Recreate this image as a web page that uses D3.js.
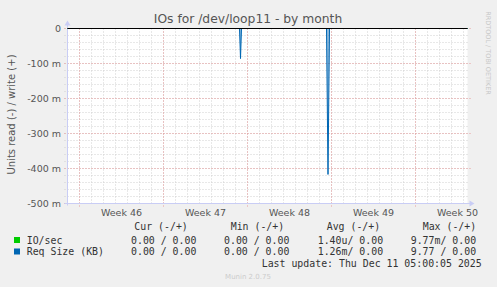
<!DOCTYPE html>
<head>
  <title>IOs for /dev/loop11 - by month</title>
  <script src="https://d3js.org/d3.v7.min.js"></script>
</head>
<meta charset="utf-8">
<style>
body {
  margin: 0;
  background: #f0f0f0;
}
svg text {
  font-family: "DejaVu Sans", sans-serif;
}
.mono {
  font-family: "DejaVu Sans Mono", monospace !important;
  font-size: 9.9px;
  fill: #333;
}
</style>
<body>
<svg id="chart" width="497" height="287"></svg>
<script>

// time window shown (33 days, munin "month")
var startTime = "2025-11-09T00:00:00Z",
    endTime = "2025-12-12T08:00:00Z";

var weekStarts = ["2025-11-10T00:00:00Z", "2025-11-17T00:00:00Z", "2025-11-24T00:00:00Z", "2025-12-01T00:00:00Z", "2025-12-08T00:00:00Z"];
var weekLabels = ["Week 46", "Week 47", "Week 48", "Week 49", "Week 50"];

var yTickValues = [0, -0.1, -0.2, -0.3, -0.4, -0.5];
var yTickLabels = ["0", "-100 m", "-200 m", "-300 m", "-400 m", "-500 m"];

// IO/sec read side (drawn negative) - flat at zero at this scale
var ioTimes = ["2025-11-09T00:00:00Z", "2025-12-12T08:00:00Z"];
var ioRead = [0, 0];

// Req Size (KB) read side (drawn negative)
var reqTimes = ["2025-11-09T00:00:00Z", "2025-11-23T08:00:00Z", "2025-11-23T10:00:00Z", "2025-11-23T12:00:00Z",
                "2025-11-30T14:00:00Z", "2025-11-30T17:00:00Z", "2025-11-30T20:00:00Z", "2025-12-12T08:00:00Z"];
var reqRead = [0, 0, 0.086, 0, 0, 0.417, 0, 0];

// legend
var seriesNames = ["IO/sec", "Req Size (KB)"];
var seriesColors = ["#00cc00", "#0066b3"];
var curVals = ["0.00 / 0.00", "0.00 / 0.00"];
var minVals = ["0.00 / 0.00", "0.00 / 0.00"];
var avgVals = ["1.40u/ 0.00", "1.26m/ 0.00"];
var maxVals = ["9.77m/ 0.00", "9.77 / 0.00"];
var colHeaders = ["Cur (-/+)", "Min (-/+)", "Avg (-/+)", "Max (-/+)"];

var svg = d3.select("#chart");

var x = d3.scaleUtc()
    .domain([new Date(startTime), new Date(endTime)])
    .range([67.5, 467.5]);

var y = d3.scaleLinear()
    .domain([-0.5, 0])
    .range([203.5, 28.5]);

var pLeft = x.range()[0], pRight = x.range()[1],
    pTop = y.range()[1], pBottom = y.range()[0];

// plot background
svg.append("rect")
    .attr("x", pLeft).attr("y", pTop)
    .attr("width", pRight - pLeft).attr("height", pBottom - pTop)
    .attr("fill", "#fff");

// minor grid
var days = d3.utcDay.range(x.domain()[0], x.domain()[1]);
svg.append("g").selectAll("line")
    .data(days)
    .enter().append("line")
      .attr("x1", function(d) { return Math.round(x(d) - 0.5) + 0.5; })
      .attr("x2", function(d) { return Math.round(x(d) - 0.5) + 0.5; })
      .attr("y1", pTop).attr("y2", pBottom + 2)
      .attr("stroke", "#d0d0d0")
      .attr("stroke-dasharray", "1,2");

var minorY = d3.range(-0.5, 0.001, 0.02);
svg.append("g").selectAll("line")
    .data(minorY)
    .enter().append("line")
      .attr("x1", pLeft - 3).attr("x2", pRight)
      .attr("y1", function(d) { return Math.round(y(d) - 0.5) + 0.5; })
      .attr("y2", function(d) { return Math.round(y(d) - 0.5) + 0.5; })
      .attr("stroke", "#d0d0d0")
      .attr("stroke-dasharray", "1,2");

// major grid
svg.append("g").selectAll("line")
    .data(weekStarts)
    .enter().append("line")
      .attr("x1", function(d) { return Math.round(x(new Date(d)) - 0.5) + 0.5; })
      .attr("x2", function(d) { return Math.round(x(new Date(d)) - 0.5) + 0.5; })
      .attr("y1", pTop).attr("y2", pBottom + 3)
      .attr("stroke", "#e89c9c")
      .attr("stroke-dasharray", "1,2");

svg.append("g").selectAll("line")
    .data(yTickValues)
    .enter().append("line")
      .attr("x1", pLeft - 3).attr("x2", pRight + 3)
      .attr("y1", function(d) { return Math.round(y(d) - 0.5) + 0.5; })
      .attr("y2", function(d) { return Math.round(y(d) - 0.5) + 0.5; })
      .attr("stroke", "#e89c9c")
      .attr("stroke-dasharray", "1,2");

// axes
var axisColor = "#c9cdf5";
svg.append("line")
    .attr("x1", pLeft).attr("x2", pLeft)
    .attr("y1", pBottom + 2).attr("y2", pTop - 4)
    .attr("stroke", axisColor);
svg.append("path")
    .attr("d", "M" + (pLeft - 3) + "," + (pTop - 3) + "L" + pLeft + "," + (pTop - 8) + "L" + (pLeft + 3) + "," + (pTop - 3) + "Z")
    .attr("fill", axisColor);
svg.append("line")
    .attr("x1", pLeft - 3).attr("x2", pRight + 3)
    .attr("y1", pBottom).attr("y2", pBottom)
    .attr("stroke", axisColor);
svg.append("path")
    .attr("d", "M" + (pRight + 2) + "," + (pBottom - 3) + "L" + (pRight + 7) + "," + pBottom + "L" + (pRight + 2) + "," + (pBottom + 3) + "Z")
    .attr("fill", axisColor);

// series
var line = d3.line()
    .x(function(d) { return x(d[0]); })
    .y(function(d) { return y(-d[1]); });

var ioData = ioTimes.map(function(t, i) { return [new Date(t), ioRead[i]]; });
var reqData = reqTimes.map(function(t, i) { return [new Date(t), reqRead[i]]; });

svg.append("path")
    .datum(ioData)
    .attr("d", line)
    .attr("fill", "none")
    .attr("stroke", seriesColors[0]);

svg.append("path")
    .datum(reqData)
    .attr("d", line)
    .attr("fill", "rgba(0,102,179,0.45)")
    .attr("stroke", seriesColors[1]);

// zero line
svg.append("line")
    .attr("x1", pLeft).attr("x2", pRight)
    .attr("y1", y(0)).attr("y2", y(0))
    .attr("stroke", "#000");

// tick labels
svg.append("g").selectAll("text")
    .data(yTickValues)
    .enter().append("text")
      .attr("x", 61)
      .attr("y", function(d) { return y(d) + 3.5; })
      .attr("text-anchor", "end")
      .attr("font-size", "9.5px")
      .attr("fill", "#555")
      .text(function(d, i) { return yTickLabels[i]; });

svg.append("g").selectAll("text")
    .data(weekStarts)
    .enter().append("text")
      .attr("x", function(d) { return x(d3.utcHour.offset(new Date(d), 84)); })
      .attr("y", 216)
      .attr("text-anchor", "middle")
      .attr("font-size", "9.5px")
      .attr("fill", "#555")
      .text(function(d, i) { return weekLabels[i]; });

// title and labels
svg.append("text")
    .attr("x", 248).attr("y", 23)
    .attr("text-anchor", "middle")
    .attr("font-size", "12.3px")
    .attr("fill", "#555")
    .text("IOs for /dev/loop11 - by month");

svg.append("text")
    .attr("transform", "translate(14.5,114.5) rotate(-90)")
    .attr("text-anchor", "middle")
    .attr("font-size", "10px")
    .attr("fill", "#555")
    .text("Units read (-) / write (+)");

svg.append("text")
    .attr("transform", "translate(486,53) rotate(90)")
    .attr("text-anchor", "middle")
    .attr("font-size", "6.5px")
    .attr("fill", "#c8c8c8")
    .text("RRDTOOL / TOBI OETIKER");

// legend
var colX = [131, 224, 317.7, 410.7];
var headX = [134.3, 230.7, 326.7, 422.7];
var rowY = [243.5, 255];

svg.append("g").selectAll("text")
    .data(colHeaders)
    .enter().append("text")
      .attr("class", "mono")
      .attr("x", function(d, i) { return headX[i]; })
      .attr("y", 230)
      .attr("xml:space", "preserve")
      .text(function(d) { return d; });

var rows = svg.append("g").selectAll("g")
    .data(seriesNames)
    .enter().append("g");

rows.append("rect")
    .attr("x", 14).attr("y", function(d, i) { return rowY[i] - 6.5; })
    .attr("width", 6).attr("height", 6)
    .attr("fill", function(d, i) { return seriesColors[i]; });

rows.append("text")
    .attr("class", "mono")
    .attr("x", 26.7).attr("y", function(d, i) { return rowY[i]; })
    .text(function(d) { return d; });

[curVals, minVals, avgVals, maxVals].forEach(function(vals, c) {
  rows.append("text")
      .attr("class", "mono")
      .attr("x", colX[c]).attr("y", function(d, i) { return rowY[i]; })
      .attr("xml:space", "preserve")
      .text(function(d, i) { return vals[i]; });
});

svg.append("text")
    .attr("class", "mono")
    .attr("x", 261.7).attr("y", 267)
    .text("Last update: Thu Dec 11 05:00:05 2025");

svg.append("text")
    .attr("x", 248).attr("y", 278.5)
    .attr("text-anchor", "middle")
    .attr("font-size", "7px")
    .attr("fill", "#cccccc")
    .text("Munin 2.0.75");

</script>
</body>
